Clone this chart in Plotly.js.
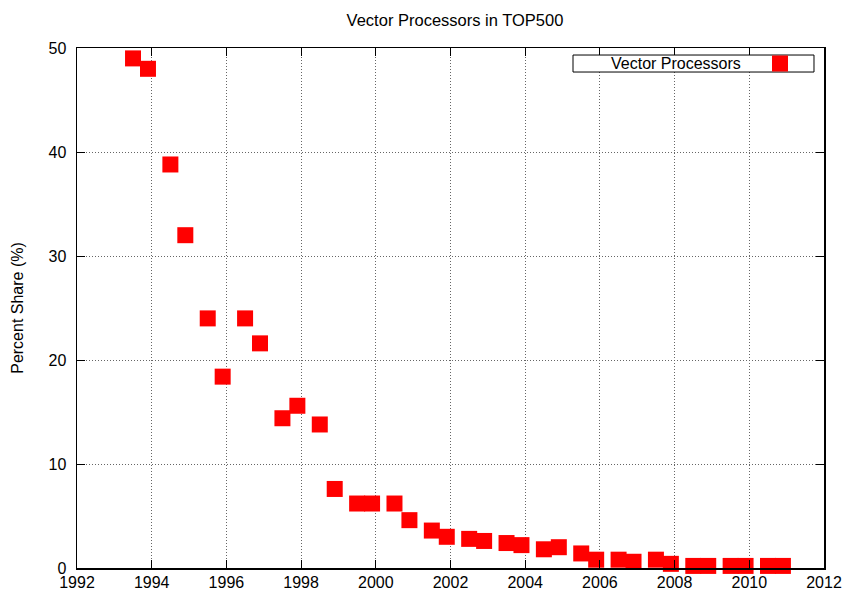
<!DOCTYPE html>
<html>
<head>
<meta charset="utf-8">
<script src="https://cdn.plot.ly/plotly-3.0.1.min.js"></script>
<style>
  html, body { margin: 0; padding: 0; background: #fff; }
  #chart { width: 844px; height: 592px; }
</style>
</head>
<body>
<div id="chart"></div>
<script>
// TOP500 list dates (June / November) and share of vector systems
const listDates = [1993.5, 1993.9, 1994.5, 1994.9, 1995.5, 1995.9, 1996.5, 1996.9,
  1997.5, 1997.9, 1998.5, 1998.9, 1999.5, 1999.9, 2000.5, 2000.9,
  2001.5, 2001.9, 2002.5, 2002.9, 2003.5, 2003.9, 2004.5, 2004.9,
  2005.5, 2005.9, 2006.5, 2006.9, 2007.5, 2007.9, 2008.5, 2008.9,
  2009.5, 2009.9, 2010.5, 2010.9];
const vectorShare = [49.0, 48.0, 38.8, 32.0, 24.0, 18.4, 24.0, 21.6,
  14.4, 15.6, 13.8, 7.6, 6.2, 6.2, 6.2, 4.6,
  3.6, 3.0, 2.8, 2.6, 2.4, 2.2, 1.8, 2.0,
  1.4, 0.8, 0.8, 0.6, 0.8, 0.4, 0.2, 0.2,
  0.2, 0.2, 0.2, 0.2];
const seriesName = 'Vector Processors';
const xTicks = [1992, 1994, 1996, 1998, 2000, 2002, 2004, 2006, 2008, 2010, 2012];
const yTicks = [0, 10, 20, 30, 40, 50];

const FONT = 'Liberation Sans, Arial, sans-serif';
const RED = '#ff0000';

const trace = {
  type: 'scatter',
  mode: 'markers',
  x: listDates,
  y: vectorShare,
  name: seriesName,
  cliponaxis: false,
  marker: { symbol: 'square', size: 16, color: RED, line: { width: 0 } },
  hoverinfo: 'x+y'
};

const axisCommon = {
  showline: true,
  linecolor: '#000',
  linewidth: 1.5,
  mirror: 'ticks',
  ticks: 'inside',
  ticklen: 8,
  tickwidth: 1,
  tickcolor: '#000',
  showgrid: true,
  gridcolor: '#666',
  griddash: '1px,2px',
  gridwidth: 1,
  zeroline: false,
  tickfont: { family: FONT, size: 16, color: '#000' }
};

const layout = {
  width: 844,
  height: 592,
  margin: { l: 77, r: 20, t: 48, b: 24, pad: 0 },
  paper_bgcolor: '#fff',
  plot_bgcolor: '#fff',
  showlegend: false,
  font: { family: FONT, size: 16, color: '#000' },
  title: {
    text: 'Vector Processors in TOP500',
    font: { family: FONT, size: 16.5, color: '#000' },
    x: 0.506, xref: 'paper', xanchor: 'center',
    y: 0.966, yref: 'container', yanchor: 'middle'
  },
  xaxis: Object.assign({}, axisCommon, {
    range: [1992, 2012],
    tickmode: 'array',
    tickvals: xTicks,
    ticktext: xTicks.map(String),
    ticklabelstandoff: -1
  }),
  yaxis: Object.assign({}, axisCommon, {
    range: [0, 50],
    tickmode: 'array',
    tickvals: yTicks,
    ticktext: yTicks.map(String),
    ticklabelstandoff: 6,
    title: { text: 'Percent Share (%)', font: { family: FONT, size: 16, color: '#000' }, standoff: 21 }
  }),
  shapes: [
    // key box
    { type: 'rect', xref: 'paper', yref: 'paper', x0: 0.664, x1: 0.9866, y0: 0.9538, y1: 0.9865,
      line: { color: '#000', width: 1 }, fillcolor: '#fff', layer: 'above' },
    // key sample
    { type: 'rect', xref: 'paper', yref: 'paper', x0: 0.9304, x1: 0.9518, y0: 0.9548, y1: 0.9856,
      line: { width: 0 }, fillcolor: RED, layer: 'above' }
  ],
  annotations: [
    { text: seriesName, xref: 'paper', yref: 'paper', x: 0.8025, y: 0.970,
      xanchor: 'center', yanchor: 'middle', showarrow: false,
      font: { family: FONT, size: 16, color: '#000' } }
  ]
};

Plotly.newPlot('chart', [trace], layout, { displayModeBar: false, staticPlot: true });
</script>
</body>
</html>
